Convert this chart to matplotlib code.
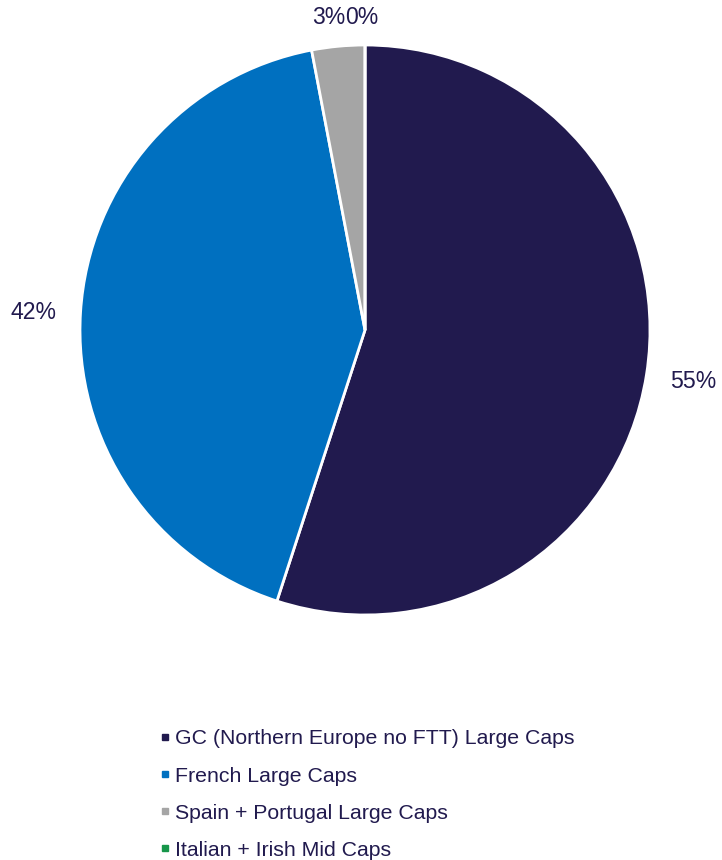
import numpy as np
import matplotlib
matplotlib.use("Agg")
import matplotlib.pyplot as plt
from matplotlib.lines import Line2D

plt.rcParams['font.family'] = ['Liberation Sans', 'DejaVu Sans']

labels = ['GC (Northern Europe no FTT) Large Caps', 'French Large Caps',
          'Spain + Portugal Large Caps', 'Italian + Irish Mid Caps']
values = [55, 42, 3, 0]
colors = ['#211a4e', '#0070c0', '#a5a5a5', '#17964a']
text_color = '#211a4e'


def main():
    fig = plt.figure(figsize=(7.22, 8.6), dpi=100)
    # pie centre ~ (365, 330) px, radius ~285 px
    ax = fig.add_axes([80 / 722, 245 / 860, 570 / 722, 570 / 860])
    wedges, _ = ax.pie(values, colors=colors, startangle=90, counterclock=False,
                       wedgeprops=dict(edgecolor='white', linewidth=2))
    ax.set_xlim(-1, 1)
    ax.set_ylim(-1, 1)
    ax.set_aspect('equal')
    ax.axis('off')

    for w, v in zip(wedges, values):
        mid = np.deg2rad((w.theta1 + w.theta2) / 2)
        if v >= 10:
            r = 1.165
            ha = 'center'
        else:
            r = 1.095
            ha = 'right' if v > 0 else 'left'
        x, y = r * np.cos(mid), r * np.sin(mid)
        if v < 10:
            x = -0.07
            y = 1.095
        elif v == 42:
            y -= 0.012
        ax.text(x, y, '%d%%' % v, ha=ha, va='center', fontsize=16.6,
                color=text_color, clip_on=False)

    handles = [Line2D([], [], marker='s', linestyle='none', markersize=4.5,
                      markerfacecolor=c, markeredgecolor=c) for c in colors]
    leg = fig.legend(handles, labels, loc='upper left',
                     bbox_to_anchor=(150 / 722, 1 - 721 / 860),
                     frameon=False, fontsize=15.3, handlelength=0.6,
                     handletextpad=0.17, labelspacing=0.85, borderaxespad=0)
    for t in leg.get_texts():
        t.set_color(text_color)

    fig.savefig('out.png', dpi=100)


if __name__ == '__main__':
    main()
